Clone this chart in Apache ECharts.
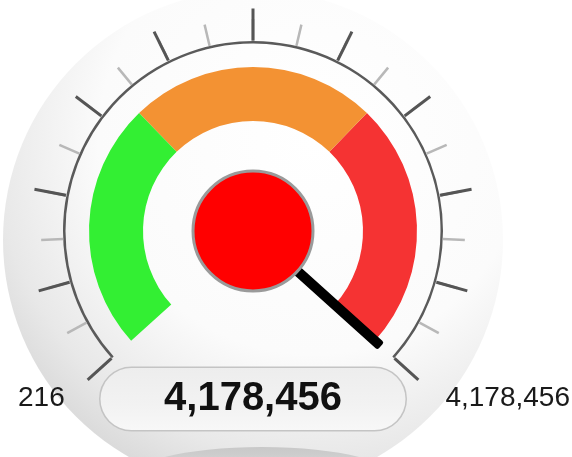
<!DOCTYPE html>
<html>
<head>
<meta charset="utf-8">
<script src="https://cdn.jsdelivr.net/npm/echarts@6/dist/echarts.min.js"></script>
<style>
  html, body { margin: 0; padding: 0; background: #fff; }
  #gauge { width: 572px; height: 457px; }
</style>
</head>
<body>
<div id="gauge"></div>
<script>
// data
const minValue = 216
const maxValue = 4178456
const currentValue = 4178456
const bandLimits = [1 / 3, 2 / 3, 1] // share of the scale for green / orange / red

const bandColors = ['#33ef33', '#f39233', '#f53333']
const fmt = v => Math.round(v).toLocaleString('en-US')

const chart = echarts.init(document.getElementById('gauge'))

const center = [253, 231]
const startAngle = 222
const endAngle = -42

// shared settings for the scale layers
const scaleBase = {
  type: 'gauge',
  center: center,
  radius: 190,
  startAngle: startAngle,
  endAngle: endAngle,
  min: minValue,
  max: maxValue,
  splitNumber: 10,
  axisLabel: { show: false },
  pointer: { show: false },
  anchor: { show: false },
  title: { show: false },
  detail: { show: false },
  data: [{ value: currentValue }]
}

const option = {
  animation: false,
  graphic: [
    {
      type: 'circle',
      z: -10,
      shape: { cx: 253, cy: 240, r: 250 },
      style: {
        fill: new echarts.graphic.RadialGradient(0.62, 0.3, 0.78, [
          { offset: 0, color: '#ffffff' },
          { offset: 0.55, color: '#fbfbfb' },
          { offset: 0.82, color: '#e8e8e8' },
          { offset: 1, color: '#d4d4d4' }
        ])
      }
    },
    {
      // base shadow under the dial
      type: 'ellipse',
      z: -9,
      shape: { cx: 262, cy: 478, rx: 132, ry: 31 },
      style: {
        fill: new echarts.graphic.LinearGradient(0, 0, 0, 1, [
          { offset: 0, color: '#c8c8c8' },
          { offset: 0.5, color: '#dcdcdc' },
          { offset: 1, color: '#e6e6e6' }
        ])
      }
    },
    {
      type: 'text',
      z: 10,
      style: {
        text: fmt(minValue),
        x: 18,
        y: 398,
        textAlign: 'left',
        textVerticalAlign: 'middle',
        font: '28px "Liberation Sans", Arial, sans-serif',
        fill: '#1a1a1a'
      }
    },
    {
      type: 'text',
      z: 10,
      style: {
        text: fmt(maxValue),
        x: 570,
        y: 398,
        textAlign: 'right',
        textVerticalAlign: 'middle',
        font: '28px "Liberation Sans", Arial, sans-serif',
        fill: '#1a1a1a'
      }
    }
  ],
  series: [
    Object.assign({}, scaleBase, {
      // ring + minor ticks
      axisLine: { lineStyle: { width: 2.5, color: [[1, '#5a5a5a']] } },
      splitLine: { show: false },
      axisTick: { splitNumber: 2, distance: -24.5, length: 22, lineStyle: { color: '#b8b8b8', width: 2.5 } }
    }),
    Object.assign({}, scaleBase, {
      // major ticks drawn on top
      axisLine: { show: true, lineStyle: { width: 2.5, color: [[1, 'rgba(0,0,0,0)']] } },
      splitLine: { distance: -35, length: 32, lineStyle: { color: '#555', width: 3 } },
      axisTick: { show: false }
    }),
    {
      // coloured band, needle, hub and value box
      type: 'gauge',
      center: center,
      radius: 164,
      startAngle: startAngle,
      endAngle: endAngle,
      min: minValue,
      max: maxValue,
      axisLine: {
        lineStyle: {
          width: 54,
          color: bandLimits.map((s, i) => [s, bandColors[i]])
        }
      },
      splitLine: { show: false },
      axisTick: { show: false },
      axisLabel: { show: false },
      pointer: {
        icon: 'roundRect',
        length: 172,
        width: 10,
        offsetCenter: [0, 0],
        itemStyle: { color: '#000' }
      },
      anchor: {
        show: true,
        showAbove: true,
        size: 120,
        itemStyle: { color: '#ff0000', borderColor: '#9a9a9a', borderWidth: 3 }
      },
      title: { show: false },
      detail: {
        offsetCenter: [0, 168],
        formatter: fmt,
        fontSize: 40,
        fontWeight: 'bold',
        fontFamily: '"Liberation Sans", Arial, sans-serif',
        color: '#111',
        padding: 0,
        width: 305,
        height: 62,
        lineHeight: 64,
        borderRadius: 31,
        borderColor: '#c4c4c4',
        borderWidth: 1.5,
        backgroundColor: new echarts.graphic.LinearGradient(0, 0, 0, 1, [
          { offset: 0, color: '#ededed' },
          { offset: 0.6, color: '#f2f2f2' },
          { offset: 1, color: '#f8f8f8' }
        ])
      },
      data: [{ value: currentValue }]
    }
  ]
}

chart.setOption(option)
</script>
</body>
</html>
